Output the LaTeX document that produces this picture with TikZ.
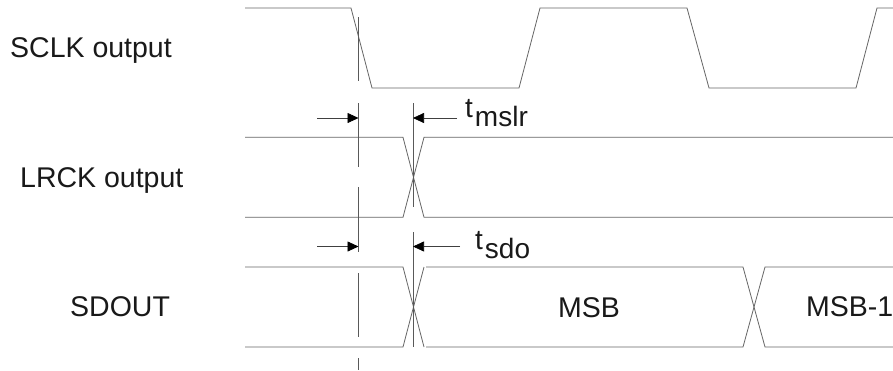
\documentclass[tikz,border=0pt]{standalone}
\usepackage{fontspec}
\setmainfont{Liberation Sans}
\usetikzlibrary{arrows.meta}
\tikzset{
  wave/.style={draw=black!60,line width=0.8pt,line join=miter},
  mark line/.style={draw=black!65,line width=0.8pt},
  tarrow/.style={draw=black!75,line width=0.7pt,-{Triangle[length=11pt,width=10pt,black]}},
  lab/.style={inner sep=0pt,anchor=base west,font=\fontsize{28.5}{32}\selectfont,text=black!90},
  tlab/.style={inner sep=0pt,anchor=base west,font=\fontsize{28}{32}\selectfont,text=black!90}
}
\begin{document}
\begin{tikzpicture}[x=1pt,y=-1pt]
\useasboundingbox (0,0) rectangle (893,370);
\fill[white] (0,0) rectangle (893,370);
% anchors for arrows
\coordinate (a1l) at (317,118); \coordinate (a1e) at (358.5,118);
\coordinate (a1r) at (457,118); \coordinate (a1f) at (413,118);
\coordinate (a2l) at (317,246.5); \coordinate (a2e) at (358.5,246.5);
\coordinate (a2r) at (460,246.5); \coordinate (a2f) at (413,246.5);
% SCLK
\draw[wave] (245,8) -- (351,8) -- (372,88) -- (519,88) -- (540,8) -- (687,8) -- (709,88) -- (856,88) -- (877,8) -- (893,8);
% LRCK
\draw[wave] (245,137.3) -- (403,137.3) -- (424,217.3) -- (893,217.3);
\draw[wave] (245,217.3) -- (403,217.3) -- (424,137.3) -- (893,137.3);
% SDOUT
\draw[wave] (245,267) -- (403,267) -- (424,347);
\draw[wave] (245,347) -- (403,347) -- (424,267);
\draw[wave] (426,267) -- (743,267) -- (765,347) -- (893,347);
\draw[wave] (426,347) -- (743,347) -- (765,267) -- (893,267);
% marker lines
\draw[mark line] (358.5,17) -- (358.5,81);
\draw[mark line] (358.5,103) -- (358.5,166.5);
\draw[mark line] (358.5,187) -- (358.5,252);
\draw[mark line] (358.5,273) -- (358.5,337);
\draw[mark line] (358.5,358) -- (358.5,370);
\draw[mark line] (413,103) -- (413,207);
\draw[mark line] (413,232) -- (413,347);
% arrows
\draw[tarrow] (a1l) -- (a1e);
\draw[tarrow] (a1r) -- (a1f);
\draw[tarrow] (a2l) -- (a2e);
\draw[tarrow] (a2r) -- (a2f);
% labels
\node[lab] (sclk) at (10,57) {SCLK output};
\node[lab] (lrck) at (20,187) {LRCK output};
\node[lab] (sdout) at (70,316) {SDOUT};
\node[lab] (msb) at (558,317) {MSB};
\node[lab] (msb1) at (806,316.5) {MSB-1};
\node[tlab] (tmslr) at (465,117) {t\kern2pt\raisebox{-9pt}{mslr}};
\node[tlab] (tsdo) at (475,249) {t\kern2pt\raisebox{-9pt}{sdo}};
\end{tikzpicture}
\end{document}
